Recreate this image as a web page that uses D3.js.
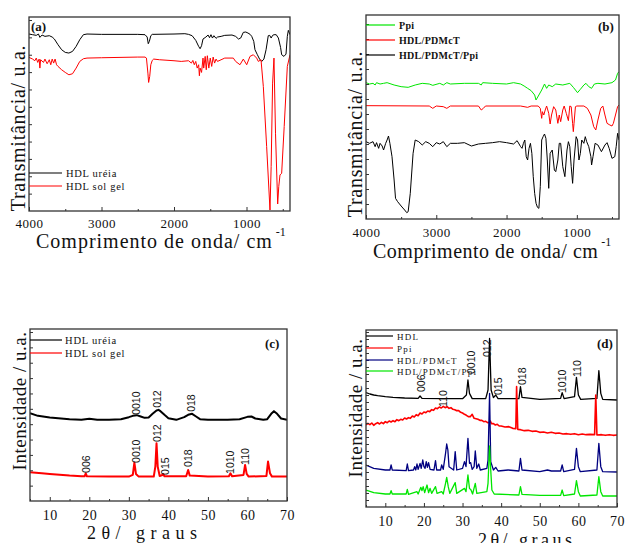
<!DOCTYPE html>
<html>
<head>
<meta charset="utf-8">
<script src="https://cdn.jsdelivr.net/npm/d3@7"></script>
<style>
body { margin: 0; background: #fff; }
svg { display: block; }
</style>
</head>
<body>
<svg id="fig" width="626" height="543"></svg>
<script>
// (a) FTIR - HDL ureia / HDL sol gel  [wavenumber, transmittance a.u.]
var irUreia = [[4000,530],[3950,528],[3900,526],[3870,530],[3850,520],[3820,527],[3780,523],[3720,525],[3680,521],[3650,515],[3600,498],[3550,483],[3500,475],[3450,473],[3400,478],[3350,493],[3300,513],[3250,528],[3200,530],[3000,529],[2800,529],[2500,529],[2400,528],[2370,521],[2355,501],[2340,508],[2320,525],[2300,529],[2000,530],[1850,531],[1800,529],[1750,525],[1700,511],[1660,493],[1640,486],[1620,495],[1600,515],[1560,521],[1530,527],[1510,519],[1490,528],[1470,518],[1450,525],[1420,517],[1400,521],[1350,523],[1300,526],[1200,527],[1150,523],[1110,515],[1080,518],[1044,535],[1010,536],[980,533],[950,529],[928,523],[900,508],[883,483],[850,468],[820,455],[790,448],[760,455],[730,483],[700,525],[680,526],[660,518],[640,526],[620,528],[590,528],[560,518],[530,490],[515,468],[483,463],[455,470],[437,523],[423,541],[409,533],[400,528]];
var irSolGel = [[4000,460],[3950,455],[3920,450],[3900,458],[3880,445],[3860,455],[3850,428],[3840,453],[3800,445],[3780,455],[3750,441],[3720,453],[3700,438],[3680,455],[3660,443],[3640,455],[3620,438],[3600,433],[3550,423],[3500,415],[3450,408],[3400,411],[3350,428],[3300,448],[3250,456],[3200,458],[3000,459],[2500,461],[2400,461],[2380,458],[2360,413],[2350,385],[2335,403],[2320,438],[2300,451],[2280,455],[2200,453],[2000,450],[1900,448],[1800,450],[1760,443],[1740,451],[1720,438],[1700,448],[1680,428],[1660,438],[1650,405],[1640,428],[1620,415],[1600,458],[1590,428],[1570,463],[1555,423],[1540,465],[1520,428],[1500,458],[1480,433],[1460,461],[1440,443],[1420,455],[1400,448],[1300,458],[1182,458],[1150,448],[1090,438],[1044,455],[997,438],[952,463],[906,468],[860,458],[837,448],[800,453],[768,373],[722,193],[676,3],[660,133],[640,383],[621,458],[600,233],[570,21],[555,73],[538,108],[515,113],[480,253],[437,433],[400,468]];

// (b) FTIR - Ppi / HDL/PDMcT / HDL/PDMcT/Ppi
var irPpi = [[4000,409],[3950,405],[3900,407],[3870,402],[3850,409],[3800,405],[3750,407],[3700,409],[3600,402],[3500,397],[3400,395],[3300,402],[3200,407],[3100,405],[3050,401],[2950,407],[2900,402],[2850,409],[2800,405],[2600,407],[2400,407],[2360,402],[2340,409],[2200,407],[2000,405],[1900,409],[1800,405],[1750,399],[1700,392],[1650,385],[1600,372],[1581,357],[1540,372],[1500,387],[1460,405],[1430,392],[1400,402],[1350,397],[1300,405],[1200,402],[1100,407],[1050,395],[990,379],[950,389],[900,402],[870,407],[830,397],[790,392],[750,405],[700,407],[600,405],[500,409],[450,417],[420,437],[400,442]];
var irPdmct = [[4000,340],[3100,339],[3050,332],[3000,339],[2900,337],[2850,332],[2800,339],[2400,339],[2360,327],[2330,332],[2300,339],[1800,339],[1700,335],[1650,339],[1550,339],[1520,332],[1500,302],[1490,322],[1470,312],[1450,327],[1430,339],[1400,317],[1380,285],[1360,312],[1330,337],[1300,327],[1270,287],[1250,312],[1230,292],[1200,327],[1180,339],[1150,317],[1120,295],[1100,339],[1080,337],[1060,287],[1050,262],[1040,287],[1020,337],[1000,339],[900,339],[850,332],[800,312],[760,277],[730,267],[700,297],[660,332],[630,339],[600,312],[570,287],[530,282],[500,279],[480,287],[450,312],[420,337],[400,342]];
var irPdmctPpi = [[4000,232],[3950,227],[3900,232],[3870,217],[3850,229],[3820,212],[3800,227],[3770,219],[3750,207],[3720,227],[3700,237],[3680,249],[3660,227],[3630,187],[3600,117],[3580,62],[3550,52],[3500,39],[3450,27],[3420,19],[3400,22],[3370,77],[3330,197],[3300,237],[3250,232],[3200,222],[3150,232],[3100,227],[3050,217],[3000,229],[2950,225],[2900,232],[2850,217],[2800,227],[2700,227],[2600,229],[2500,219],[2400,225],[2300,227],[2200,229],[2100,232],[2000,229],[1900,225],[1850,235],[1800,217],[1780,212],[1760,227],[1740,237],[1720,187],[1700,177],[1680,212],[1660,227],[1640,197],[1620,127],[1600,77],[1580,47],[1560,35],[1540,32],[1520,97],[1500,237],[1480,247],[1460,255],[1440,242],[1420,177],[1400,92],[1380,197],[1350,207],[1320,147],[1300,142],[1270,177],[1250,227],[1230,227],[1200,157],[1170,127],[1140,207],[1120,232],[1100,217],[1080,157],[1060,107],[1040,177],[1010,247],[990,237],[970,177],[950,197],[930,237],[900,227],[880,247],[860,232],[830,217],[800,187],[790,162],[770,187],[740,227],[700,222],[650,202],[600,222],[570,229],[540,212],[500,182],[460,187],[440,217],[420,257],[400,237]];

// (c) XRD - HDL ureia / HDL sol gel  [2theta, intensity a.u.]
var xrdUreia = [[5,263],[7,255],[10,250],[15,245],[18,243],[20,246],[22,243],[25,243],[28,245],[30,251],[31,255],[32,257],[33,253],[34,249],[35,250],[36,261],[37,271],[37.5,273],[38,269],[39,258],[40,248],[42,243],[44,251],[45,258],[46,261],[47,253],[48,245],[50,243],[55,243],[58,245],[60,252],[61,253],[62,247],[64,243],[65,245],[66,261],[66.7,269],[67.5,261],[68.5,247],[70,243]];
var xrdSolGel = [[5,86],[8,83],[10,81],[15,76],[18,74],[18.8,74],[19.1,83],[19.4,74],[25,73],[30,73],[31,78],[31.4,115],[31.8,81],[32.5,73],[36.3,73],[36.7,103],[37,173],[37.3,103],[37.8,75],[38.5,78],[38.7,81],[39,74],[44.5,74],[45,93],[45.4,76],[50,73],[55.3,74],[55.7,83],[56.1,74],[59,78],[59.4,108],[59.8,81],[60.3,73],[64.8,75],[65.2,118],[65.7,83],[66.2,73],[70,73]];

// (d) XRD - HDL / Ppi / HDL/PDMcT / HDL/PDMcT/Ppi
var xrdHdl = [[5,343],[6,339],[7,336],[8,334],[10,331],[12,329],[15,327],[18.5,326],[19,333],[19.5,326],[25,325],[30,325],[31,336],[31.4,381],[31.8,341],[32.5,325],[36,325],[36.6,351],[37,506],[37.4,351],[38,328],[38.6,336],[39.2,325],[44.6,325],[45,361],[45.4,329],[50,323],[55.4,326],[55.8,343],[56.3,325],[59,331],[59.5,389],[60,336],[60.6,323],[64.8,326],[65.3,409],[65.8,341],[66.3,323],[70,321]];
var xrdPpi = [[5,246],[5.5,251],[6,247],[6.5,252],[7,245],[7.5,250],[8,253],[8.5,249],[9,254],[9.5,250],[10,256],[10.5,253],[11,258],[11.5,255],[12,259],[12.5,256],[13,262],[13.5,259],[14,263],[14.5,261],[15,267],[15.5,264],[16,268],[16.5,266],[17,273],[17.5,270],[18,277],[18.5,274],[19,282],[19.5,279],[20,285],[20.5,283],[21,288],[21.5,286],[22,292],[22.5,290],[23,297],[23.5,295],[24,300],[24.5,297],[25,302],[25.5,298],[26,301],[26.5,296],[27,298],[27.5,293],[28,292],[28.5,289],[29,289],[29.5,284],[30,282],[30.5,278],[31,275],[31.5,271],[32,271],[32.5,278],[33,266],[33.5,265],[34,263],[34.5,260],[35,260],[35.5,256],[36,257],[36.5,253],[37,254],[37.2,258],[37.5,250],[38,250],[38.5,246],[39,248],[39.5,243],[40,243],[41,240],[42,241],[43,236],[43.8,235],[44,361],[44.3,233],[45,232],[46,229],[47,230],[48,227],[49,228],[50,224],[51,225],[52,222],[53,224],[54,221],[55,222],[56,219],[57,220],[58,218],[59,220],[60,217],[61,219],[62,217],[63,218],[64.2,217],[64.5,336],[64.8,216],[66,217],[67,215],[68,217],[69,215],[70,216]];
var xrdPdmct = [[5,126],[7,116],[10,111],[11.2,111],[11.5,126],[11.8,111],[15.4,109],[15.7,129],[16,109],[17.3,111],[17.6,121],[17.9,111],[18.2,129],[18.5,113],[19,131],[19.3,116],[19.7,141],[20,121],[20.3,116],[20.6,136],[20.9,119],[21.2,133],[21.6,113],[22.6,111],[23,139],[23.3,111],[24.3,111],[24.6,126],[25,113],[25.6,161],[25.9,189],[26.2,171],[26.5,121],[27.7,111],[28.1,166],[28.5,111],[30,116],[30.5,136],[30.9,121],[31.4,206],[31.8,131],[32.1,133],[32.5,113],[33,121],[33.3,168],[33.7,116],[34.2,129],[34.6,111],[36.3,116],[36.6,141],[37,341],[37.3,136],[38,111],[38.6,119],[39.2,108],[41.8,111],[44.6,108],[45,146],[45.4,111],[50,106],[52,111],[53,108],[55.4,108],[55.8,126],[56.2,106],[59,113],[59.5,176],[60,121],[60.5,106],[64.8,111],[65.3,191],[65.8,121],[66.3,106],[70,105]];
var xrdPdmctPpi = [[5,51],[7,43],[10,39],[11.2,39],[11.5,49],[11.8,39],[15.4,39],[15.7,53],[16,38],[18.2,46],[18.5,39],[19.2,59],[19.5,49],[19.8,61],[20.2,43],[20.8,66],[21.2,43],[21.6,56],[22,41],[23,61],[23.4,41],[24.6,46],[25,39],[25.6,71],[25.9,89],[26.3,61],[26.7,41],[28.1,73],[28.5,41],[30.5,56],[30.9,46],[31.4,96],[31.8,56],[32.2,51],[32.6,39],[33.3,71],[33.7,41],[36.3,46],[36.6,71],[37,183],[37.3,111],[37.6,51],[38.2,39],[44.6,36],[45,61],[45.4,38],[50,35],[55.4,35],[55.8,51],[56.2,34],[59,39],[59.5,79],[60,46],[60.5,33],[64.8,36],[65.3,91],[65.8,46],[66.3,33],[70,33]];

// peak indexing labels [text, 2theta, intensity at label foot]
var peaksC = [["0010",31.8,258],["012",37.1,279],["018",45.7,267],["006",19.2,84],["0010",31.8,114],["012",37.1,177],["015",39.1,78],["018",45,102],["1010",55.6,81],["110",59.4,108]];
var peaksD = [["006",19.2,345],["0010",32.4,399],["012",36.3,450],["015",39.2,336],["018",45.4,366],["1010",55.8,342],["110",59.6,390],["110",24.9,300]];

var irMajor = [4000, 3000, 2000, 1000];
var irMinor = [3500, 2500, 1500, 500];
var xrdMajor = [10, 20, 30, 40, 50, 60, 70];
var xrdMinor = [5, 15, 25, 35, 45, 55, 65];

var svg = d3.select('#fig');
var serif = "'Liberation Serif', 'Times New Roman', serif";
var sans = "'Liberation Sans', Arial, sans-serif";

function drawPanel(p) {
    var x = d3.scaleLinear().domain(p.xDomain).range([p.box[0], p.box[2]]);
    var y = d3.scaleLinear().domain(p.yDomain).range([p.box[3], p.box[1]]);
    var g = svg.append('g');

    g.append('clipPath').attr('id', 'clip-' + p.id)
        .append('rect')
        .attr('x', p.box[0]).attr('y', p.box[1])
        .attr('width', p.box[2] - p.box[0]).attr('height', p.box[3] - p.box[1]);

    var line = d3.line().x(d => x(d[0])).y(d => y(d[1]));
    var plot = g.append('g').attr('clip-path', 'url(#clip-' + p.id + ')');
    p.series.forEach(function (s) {
        plot.append('path').datum(s.data)
            .attr('d', line)
            .attr('fill', 'none')
            .attr('stroke', s.color)
            .attr('stroke-width', s.width || p.lineWidth)
            .attr('stroke-linejoin', 'round');
    });

    // x axis, ticks pointing inward
    var xa = g.append('g').attr('transform', 'translate(0,' + p.box[3] + ')')
        .call(d3.axisBottom(x).tickValues(p.xMajor).tickSize(-4).tickFormat(d3.format('d')));
    xa.select('.domain').remove();
    xa.selectAll('line').attr('stroke', '#333');
    xa.selectAll('text')
        .attr('y', p.tickOffset).attr('dy', null)
        .attr('fill', '#111')
        .style('font-family', serif)
        .style('font-size', p.tickFont + 'px')
        .style('letter-spacing', p.tickSpacing + 'px');
    var xm = g.append('g').attr('transform', 'translate(0,' + p.box[3] + ')')
        .call(d3.axisBottom(x).tickValues(p.xMinor).tickSize(-2).tickFormat(''));
    xm.select('.domain').remove();
    xm.selectAll('line').attr('stroke', '#333');

    // y axis, unlabeled inward ticks
    var ya = g.append('g').attr('transform', 'translate(' + p.box[0] + ',0)')
        .call(d3.axisLeft(y).tickValues(d3.range(p.yTickStep, p.yDomain[1], p.yTickStep)).tickSize(-3).tickFormat(''));
    ya.select('.domain').remove();
    ya.selectAll('line').attr('stroke', '#333');

    g.append('rect')
        .attr('x', p.box[0]).attr('y', p.box[1])
        .attr('width', p.box[2] - p.box[0]).attr('height', p.box[3] - p.box[1])
        .attr('fill', 'none').attr('stroke', '#333').attr('stroke-width', 1.3);

    // legend
    p.series.forEach(function (s, i) {
        var ly = p.legend.ys[i];
        g.append('line')
            .attr('x1', p.legend.x0).attr('x2', p.legend.x1)
            .attr('y1', ly).attr('y2', ly)
            .attr('stroke', s.color).attr('stroke-width', 1.2);
        g.append('text')
            .attr('x', p.legend.tx).attr('y', ly + 3.5)
            .style('font-family', serif)
            .style('font-size', p.legend.font + 'px')
            .style('font-weight', p.legend.weight)
            .style('letter-spacing', p.legend.spacing + 'px')
            .attr('fill', '#111')
            .text(s.name);
    });

    // peak labels
    (p.peaks || []).forEach(function (pk) {
        g.append('text')
            .attr('transform', 'translate(' + x(pk[1]) + ',' + y(pk[2]) + ') rotate(-90)')
            .attr('dy', '0.35em')
            .style('font-family', sans)
            .style('font-size', '10.5px')
            .attr('fill', '#111')
            .text(pk[0]);
    });

    // panel letter
    g.append('text')
        .attr('x', p.tag[1]).attr('y', p.tag[2])
        .style('font-family', serif).style('font-weight', 'bold').style('font-size', '13px')
        .attr('fill', '#111')
        .text(p.tag[0]);

    // axis titles
    var xt = g.append('text')
        .attr('x', p.xTitle.x).attr('y', p.xTitle.y)
        .style('font-family', serif)
        .style('font-size', p.xTitle.size + 'px')
        .style('letter-spacing', p.xTitle.spacing + 'px')
        .attr('fill', '#111')
        .text(p.xTitle.text);
    if (p.xTitle.sup) {
        xt.append('tspan').attr('dx', 3).attr('dy', -12)
            .style('font-size', '12px').style('letter-spacing', '0px')
            .text(p.xTitle.sup);
    }
    g.append('text')
        .attr('transform', 'translate(' + p.yTitle.x + ',' + p.yTitle.y + ') rotate(-90)')
        .attr('text-anchor', 'middle')
        .style('font-family', serif)
        .style('font-size', p.yTitle.size + 'px')
        .style('letter-spacing', p.yTitle.spacing + 'px')
        .attr('fill', '#111')
        .text(p.yTitle.text);
}

drawPanel({
    id: 'a', box: [29, 17, 290, 211], xDomain: [4000, 400], yDomain: [0, 581],
    xMajor: irMajor, xMinor: irMinor, yTickStep: 52,
    tickOffset: 17, tickFont: 13, tickSpacing: 0.5, lineWidth: 1,
    series: [{ name: 'HDL uréia', color: '#000', data: irUreia },
             { name: 'HDL sol gel', color: '#ff0000', data: irSolGel }],
    legend: { x0: 29, x1: 62, tx: 66, ys: [173, 186], font: 10.5, weight: 'normal', spacing: 0.7 },
    tag: ['(a)', 31, 31],
    xTitle: { text: 'Comprimento de onda/ cm', sup: '-1', x: 36, y: 248, size: 20, spacing: 1 },
    yTitle: { text: 'Transmitância/ u.a.', x: 25, y: 128, size: 20, spacing: 0.7 }
});

drawPanel({
    id: 'b', box: [366, 15, 619, 219], xDomain: [4000, 400], yDomain: [0, 612],
    xMajor: irMajor, xMinor: irMinor, yTickStep: 45,
    tickOffset: 18, tickFont: 13, tickSpacing: 0.5, lineWidth: 1,
    series: [{ name: 'Ppi', color: '#00e600', data: irPpi },
             { name: 'HDL/PDMcT', color: '#ff0000', data: irPdmct },
             { name: 'HDL/PDMcT/Ppi', color: '#000', data: irPdmctPpi }],
    legend: { x0: 366, x1: 395, tx: 399, ys: [25, 40, 55], font: 10, weight: 'bold', spacing: 0.3 },
    tag: ['(b)', 598, 31],
    xTitle: { text: 'Comprimento de onda/ cm', sup: '-1', x: 373, y: 258, size: 20, spacing: 0.5 },
    yTitle: { text: 'Transmitância/ u.a.', x: 362, y: 134, size: 20, spacing: 0.7 }
});

drawPanel({
    id: 'c', box: [30, 329, 287, 501], xDomain: [5, 70], yDomain: [0, 515],
    xMajor: xrdMajor, xMinor: xrdMinor, yTickStep: 46,
    tickOffset: 19, tickFont: 14, tickSpacing: 0.5, lineWidth: 2,
    series: [{ name: 'HDL uréia', color: '#000', data: xrdUreia },
             { name: 'HDL sol gel', color: '#ff0000', data: xrdSolGel }],
    peaks: peaksC,
    legend: { x0: 30, x1: 62, tx: 65, ys: [340, 353], font: 10.5, weight: 'normal', spacing: 0.8 },
    tag: ['(c)', 265, 348],
    xTitle: { text: '2θ/ graus', x: 87, y: 539, size: 18, spacing: 5.5 },
    yTitle: { text: 'Intensidade / u.a.', x: 26, y: 401, size: 19, spacing: 0.5 }
});

drawPanel({
    id: 'd', box: [366, 330, 617, 507], xDomain: [5, 70], yDomain: [0, 531],
    xMajor: xrdMajor, xMinor: xrdMinor, yTickStep: 21,
    tickOffset: 19, tickFont: 14, tickSpacing: 0.5, lineWidth: 1.3,
    series: [{ name: 'HDL', color: '#000', data: xrdHdl },
             { name: 'Ppi', color: '#ff0000', data: xrdPpi, width: 1.6 },
             { name: 'HDL/PDMcT', color: '#000080', data: xrdPdmct },
             { name: 'HDL/PDMcT/Ppi', color: '#00e600', data: xrdPdmctPpi }],
    peaks: peaksD,
    legend: { x0: 366, x1: 393, tx: 397, ys: [336, 348, 360, 371], font: 9, weight: 'normal', spacing: 1.2 },
    tag: ['(d)', 597, 348],
    xTitle: { text: '2θ/ graus', x: 478, y: 546, size: 18, spacing: 3.5 },
    yTitle: { text: 'Intensidade / u.a.', x: 362, y: 408, size: 19, spacing: 0.5 }
});
</script>
</body>
</html>
